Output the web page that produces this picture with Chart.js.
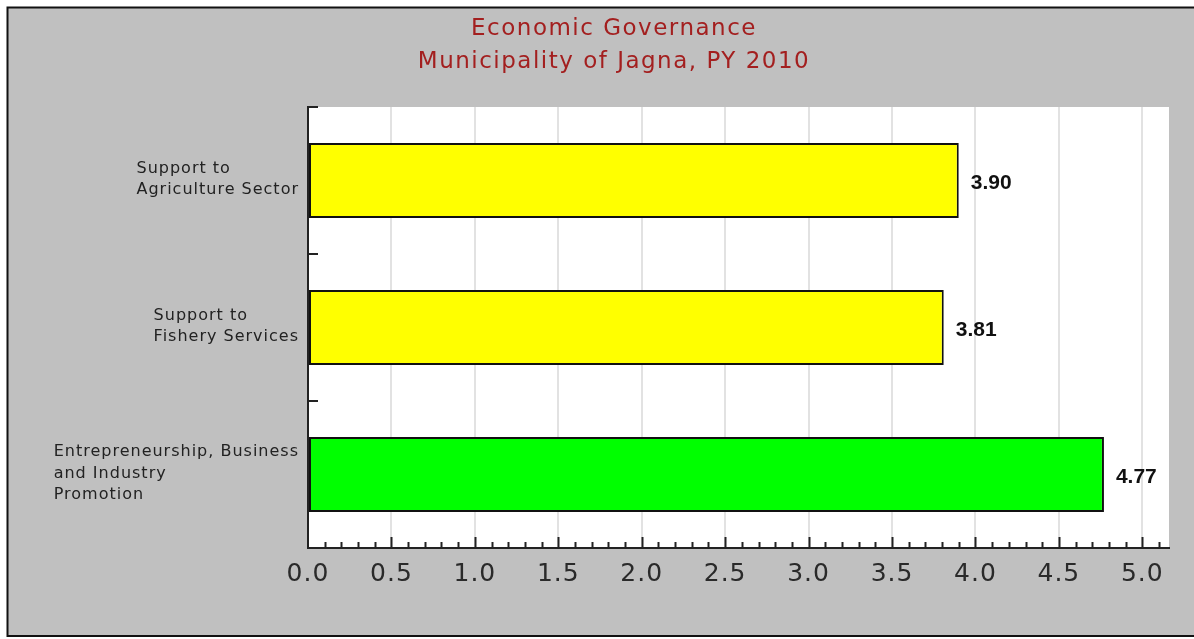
<!DOCTYPE html>
<html>
<head>
<meta charset="utf-8">
<script src="https://cdn.jsdelivr.net/npm/chart.js@4/dist/chart.umd.min.js"></script>
<style>
  html, body { margin: 0; padding: 0; background: #fff; }
  #wrap { width: 1194px; height: 639px; }
</style>
</head>
<body>
<div id="wrap"><canvas id="governance" width="1194" height="639"></canvas></div>
<script>
const titleLines = ['Economic Governance', 'Municipality of Jagna, PY 2010'];
const categories = [
  ['Support to', 'Agriculture Sector'],
  ['Support to', 'Fishery Services'],
  ['Entrepreneurship, Business', 'and Industry', 'Promotion']
];
const scores = [3.90, 3.81, 4.77];
const xTickValues = [0.0, 0.5, 1.0, 1.5, 2.0, 2.5, 3.0, 3.5, 4.0, 4.5, 5.0];

const barColors = ['#ffff00', '#ffff00', '#00ff00'];
const axisColor = '#222';
const sansFamily = '"DejaVu Sans", sans-serif';

// gray panel, frame, white plot box and title
const backdrop = {
  id: 'backdrop',
  beforeDraw(chart) {
    const c = chart.ctx;
    const a = chart.chartArea;
    c.save();
    c.fillStyle = '#fff';
    c.fillRect(0, 0, chart.width, chart.height);
    c.fillStyle = '#c0c0c0';
    c.fillRect(8, 8, chart.width - 8, 628);
    c.strokeStyle = '#111';
    c.lineWidth = 2;
    c.beginPath();
    c.moveTo(chart.width, 7.5);
    c.lineTo(7.5, 7.5);
    c.lineTo(7.5, 636);
    c.lineTo(chart.width, 636);
    c.stroke();
    c.fillStyle = '#fff';
    c.fillRect(a.left, a.top, a.right - a.left, a.bottom - a.top);

    c.fillStyle = '#a31f1f';
    c.font = '23px ' + sansFamily;
    c.letterSpacing = '1.5px';
    c.textAlign = 'center';
    c.textBaseline = 'alphabetic';
    titleLines.forEach((t, i) => c.fillText(t, 614, 35 + i * 33));
    c.restore();
    // the axis labels are set a little wide as well
    c.letterSpacing = '1px';
  }
};

// inward tick marks, category labels and bar values
const decorations = {
  id: 'decorations',
  afterDraw(chart) {
    const c = chart.ctx;
    const a = chart.chartArea;
    const x = chart.scales.x;
    const y = chart.scales.y;
    c.save();
    c.strokeStyle = axisColor;
    c.lineWidth = 2;
    c.beginPath();
    for (let i = 1; i <= Math.floor(x.max * 10); i++) {
      const px = Math.round(x.getPixelForValue(i / 10)) + 0.5;
      const len = i % 5 === 0 ? 11 : 6;
      c.moveTo(px, a.bottom);
      c.lineTo(px, a.bottom - len);
    }
    for (let i = 0; i < categories.length; i++) {
      const py = Math.round(y.getPixelForValue(i - 0.5));
      c.moveTo(a.left, py);
      c.lineTo(a.left + 10, py);
    }
    c.stroke();

    c.fillStyle = axisColor;
    c.font = '16px ' + sansFamily;
    c.letterSpacing = '1px';
    c.textAlign = 'left';
    c.textBaseline = 'middle';
    categories.forEach((lines, i) => {
      const cy = y.getPixelForValue(i) - 1;
      const w = Math.max(...lines.map(l => c.measureText(l).width));
      const lx = a.left - 9 - w;
      lines.forEach((l, j) => {
        c.fillText(l, lx, cy + (j - (lines.length - 1) / 2) * 21.5);
      });
    });

    c.fillStyle = '#111';
    c.font = 'bold 21px "Liberation Sans", Arial, sans-serif';
    c.letterSpacing = '0px';
    const meta = chart.getDatasetMeta(0);
    meta.data.forEach((bar, i) => {
      c.fillText(scores[i].toFixed(2), bar.x + 12, bar.y + 3);
    });
    c.restore();
  }
};

function drawChart() {
  const ctx = document.getElementById('governance');
  return new Chart(ctx, {
    type: 'bar',
    data: {
      labels: categories,
      datasets: [{
        data: scores,
        backgroundColor: barColors,
        borderColor: '#111',
        borderWidth: 2,
        borderSkipped: false,
        barPercentage: 0.51,
        categoryPercentage: 1.0
      }]
    },
    options: {
      indexAxis: 'y',
      responsive: false,
      animation: false,
      layout: { padding: { top: 107, right: 25, left: 0, bottom: 0 } },
      plugins: {
        legend: { display: false },
        title: { display: false },
        tooltip: { enabled: false }
      },
      scales: {
        x: {
          min: 0,
          max: 5.16,
          afterBuildTicks: scale => {
            scale.ticks = xTickValues.map(v => ({ value: v }));
          },
          afterFit: scale => { scale.height = 91; },
          grid: { color: '#e2e2e2', lineWidth: 2, drawTicks: false },
          border: { color: axisColor, width: 2 },
          ticks: {
            padding: 11,
            color: '#2a2a2a',
            font: { family: sansFamily, size: 25 },
            maxRotation: 0,
            callback: v => Number(v).toFixed(1)
          }
        },
        y: {
          afterFit: scale => { scale.width = 308; },
          grid: { display: false },
          border: { color: axisColor, width: 2 },
          ticks: { display: false }
        }
      }
    },
    plugins: [backdrop, decorations]
  });
}

Promise.all([
  document.fonts.load('23px "DejaVu Sans"'),
  document.fonts.load('bold 21px "Liberation Sans"')
]).catch(() => {}).then(drawChart);
</script>
</body>
</html>
